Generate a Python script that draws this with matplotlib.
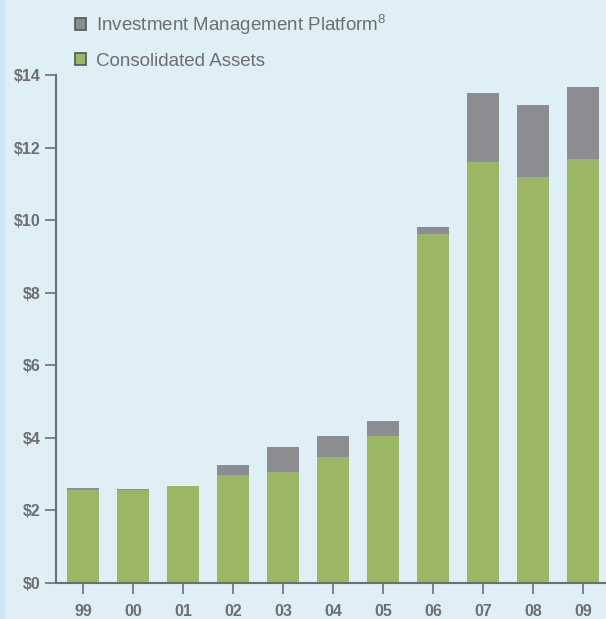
import matplotlib
matplotlib.use("Agg")
import matplotlib.pyplot as plt
import numpy as np

# data ($ billions)
years = ["99", "00", "01", "02", "03", "04", "05", "06", "07", "08", "09"]
consolidated = [2.56, 2.56, 2.66, 2.97, 3.06, 3.47, 4.05, 9.61, 11.60, 11.18, 11.68]
platform = [0.06, 0.02, 0.02, 0.28, 0.69, 0.58, 0.41, 0.20, 1.90, 1.99, 1.98]
yticks = [0, 2, 4, 6, 8, 10, 12, 14]

bg = "#deeff6"
green = "#9bb764"
grey = "#8c8d91"
txt = "#6d6e71"

plt.rcParams["font.family"] = ["Liberation Sans", "DejaVu Sans"]
plt.rcParams["mathtext.default"] = "regular"

fig = plt.figure(figsize=(6.06, 6.19), dpi=100, facecolor=bg)
# slightly darker strip along the left edge
fig.patches.append(plt.Rectangle((0, 0), 5 / 606, 1, transform=fig.transFigure,
                                 facecolor="#cce7f3", edgecolor="none"))

ax = fig.add_axes([56 / 606, 1 - 583 / 619, 550 / 606, 508 / 619])
ax.set_facecolor(bg)

x = np.arange(len(years))
b1 = ax.bar(x, consolidated, width=0.64, color=green, zorder=2)
b2 = ax.bar(x, platform, width=0.64, bottom=consolidated, color=grey, zorder=2)

ax.set_xlim(-0.54, 10.46)
ax.set_ylim(0, 14)
ax.set_yticks(yticks)
ax.set_yticklabels([f"${v}" for v in yticks])
ax.set_xticks(x)
ax.set_xticklabels(years)

for s in ["top", "right"]:
    ax.spines[s].set_visible(False)
for s in ["left", "bottom"]:
    ax.spines[s].set_color(txt)
    ax.spines[s].set_linewidth(1.5)

ax.tick_params(axis="y", length=8, width=1.2, color=txt, labelcolor=txt,
               labelsize=11.5, pad=3)
ax.tick_params(axis="x", length=8, width=1.2, color=txt, labelcolor=txt,
               labelsize=11.5, pad=7)
for lab in ax.get_yticklabels() + ax.get_xticklabels():
    lab.set_fontweight("bold")

leg = fig.legend([b2, b1], ["Investment Management Platform$^{8}$", "Consolidated Assets"],
                 loc="upper left", bbox_to_anchor=(58 / 606, 1 + 4 / 619),
                 frameon=False, fontsize=13.5, labelcolor=txt,
                 handlelength=0.6, handleheight=0.6, handletextpad=0.55,
                 labelspacing=0.85)
for h in leg.legend_handles:
    h.set_edgecolor("#555555")
    h.set_linewidth(1.2)

fig.savefig("out.png", dpi=100, facecolor=bg)
